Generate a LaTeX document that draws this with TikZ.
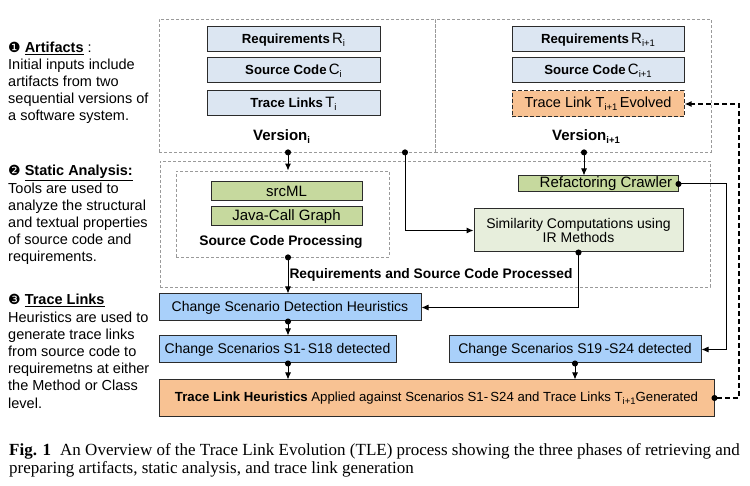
\documentclass[tikz,border=0pt]{standalone}
\usepackage{fontspec}
\setmainfont{Liberation Sans}
\newfontfamily\capfont{Liberation Serif}
\newfontfamily\symfont{DejaVu Sans}
\usetikzlibrary{arrows.meta}

\definecolor{verfill}{HTML}{DCE6F2}
\definecolor{bluefill}{HTML}{A9D0FA}
\definecolor{orfill}{HTML}{F8C293}
\definecolor{grfill}{HTML}{C6D99E}
\definecolor{simfill}{HTML}{E7EEDC}
\definecolor{edgecol}{HTML}{2B2B2B}
\definecolor{dashgray}{HTML}{9A9A9A}

\newcommand\fs[1]{\fontsize{#1}{#1}\selectfont}
\newcommand\sbx[1]{\raisebox{-3pt}{\fontsize{9.5}{9.5}\selectfont #1}}
\newcommand\bul[1]{{\symfont\fontsize{14}{14}\selectfont #1}}

\begin{document}
\begin{tikzpicture}[x=1pt,y=-1pt,
  box/.style={draw=edgecol, line width=1pt, inner sep=0pt},
  vbox/.style={box, fill=verfill, minimum height=25pt, font=\fs{13.2}\bfseries},
  bluebox/.style={box, fill=bluefill, minimum height=27pt, font=\fs{14}},
  greenbox/.style={box, fill=grfill, font=\fs{15}},
  container/.style={draw=dashgray, dash pattern=on 3pt off 2pt, line width=0.8pt, inner sep=0pt},
  conn/.style={line width=1pt, {Circle[length=6pt]}-{Latex[length=7pt,width=6pt]}, shorten <=-3pt},
  feedback/.style={line width=1.3pt, dash pattern=on 5pt off 3pt, {Circle[length=6pt]}-{Latex[length=7pt,width=6pt]}, shorten <=-3pt},
  lefttext/.style={inner sep=0pt, align=left, font=\fontsize{14.5}{17.2}\selectfont},
  bigbold/.style={inner sep=0pt, font=\fs{15}\bfseries},
  midbold/.style={inner sep=0pt, font=\fs{13.8}\bfseries}]

\useasboundingbox (0,0) rectangle (750,486);

% containers
\node[container, minimum width=276pt, minimum height=133pt] (v1) at (297,85.5) {};
\node[container, minimum width=276pt, minimum height=133pt] (v2) at (573,85.5) {};
\node[container, minimum width=550pt, minimum height=126pt] (sa) at (435,224) {};
\node[container, minimum width=213pt, minimum height=86pt] (scp) at (282.5,214) {};

% version i
\node[vbox, minimum width=173pt] (r1) at (293.5,39.5) {Requirements\,{\mdseries\fs{15}R}\sbx{\mdseries i}};
\node[vbox, minimum width=173pt] (c1) at (293.5,70.5) {Source Code\,{\mdseries\fs{15}C}\sbx{\mdseries i}};
\node[vbox, minimum width=173pt] (t1) at (293.5,103.5) {Trace Links\,{\mdseries\fs{15}T}\sbx{\mdseries i}};
\node[bigbold, anchor=base west] (ver1) at (253,141) {Version\sbx{i}};

% version i+1
\node[vbox, minimum width=172pt] (r2) at (598,39.5) {Requirements\,{\mdseries\fs{15}R}\sbx{\mdseries i+1}};
\node[vbox, minimum width=172pt] (c2) at (598,70.5) {Source Code\,{\mdseries\fs{15}C}\sbx{\mdseries i+1}};
\node[box, fill=orfill, dash pattern=on 4pt off 2pt, minimum width=172pt, minimum height=26pt, font=\fs{14.5}] (tle) at (598,104) {Trace Link T\sbx{i+1}\,Evolved};
\node[bigbold, anchor=base west] (ver2) at (552,141) {Version\sbx{i+1}};

% static analysis
\node[greenbox, minimum width=151pt, minimum height=19pt] (src) at (286.5,191.5) {srcML};
\node[greenbox, minimum width=151pt, minimum height=19pt] (jcg) at (286.5,216.5) {Java-Call Graph};
\node[midbold] (scplab) at (281,242) {Source Code Processing};
\node[greenbox, minimum width=160pt, minimum height=16pt] (rc) at (598,184) {\hspace*{16pt}Refactoring Crawler};
\node[box, fill=simfill, minimum width=209pt, minimum height=43pt, align=center, font=\fontsize{14}{14}\selectfont] (sim) at (578.5,230.5) {Similarity Computations using\\IR Methods};
\node[midbold] (rsp) at (431,275) {Requirements and Source Code Processed};

% trace links
\node[bluebox, minimum width=262pt] (cdh) at (290,307.5) {Change Scenario Detection Heuristics};
\node[bluebox, minimum width=237pt] (s1) at (277.5,349.5) {Change Scenarios S1-\,S18 detected};
\node[bluebox, minimum width=252pt] (s19) at (575,349.5) {Change Scenarios S19\,-S24 detected};
\node[box, fill=orfill, minimum width=555pt, minimum height=36pt, font=\fs{13.2}] (tlh) at (436.5,398) {\textbf{Trace Link Heuristics} Applied against Scenarios S1-\,S24 and Trace Links T\sbx{i+1}Generated};

% helper x positions
\coordinate (sp) at (288,0);
\coordinate (xb) at (405,0);
\coordinate (xc) at (584,0);
\coordinate (rx) at (726,0);
\coordinate (fx) at (739,0);

% connectors
\draw[conn] (v1.south -| sp) -- (scp.north -| sp);
\draw[conn] (v1.south -| xb) |- (sim.west);
\draw[conn] (v2.south -| xc) -- (rc.north -| xc);
\draw[conn] (rc.east) -- (rc.east -| rx) |- (s19.east);
\draw[conn] (sim.south) |- (cdh.east);
\draw[conn] (scp.south -| sp) -- (cdh.north -| sp);
\draw[conn] (cdh.south -| sp) -- (s1.north -| sp);
\draw[conn] (s1.south -| sp) -- (tlh.north -| sp);
\draw[conn] (s19.south) -- (s19.south |- tlh.north);
\draw[feedback] (tlh.east) -- (tlh.east -| fx) |- (tle.east);

% left column (anchored at the baseline of the last line)
\node[lefttext, anchor=base west] (ta) at (8,121) {\bul{❶} \underline{\textbf{Artifacts}} :\\Initial inputs include\\artifacts from two\\sequential versions of\\a software system.};
\node[lefttext, anchor=base west] (tb) at (8,262) {\bul{❷} \underline{\textbf{Static Analysis:}}\\Tools are used to\\analyze the structural\\and textual properties\\of source code and\\requirements.};
\node[lefttext, anchor=base west] (tc) at (8,408) {\bul{❸} \underline{\textbf{Trace Links}}\\Heuristics are used to\\generate trace links\\from source code to\\requiremetns at either\\the Method or Class\\level.};

% caption
\node[inner sep=0pt, anchor=west, font=\capfont\fontsize{17}{18}\selectfont] (cap) at (9,461) {\begin{tabular}{@{}l@{}}\textbf{Fig. 1}\hspace{9pt}An Overview of the Trace Link Evolution (TLE) process showing the three phases of retrieving and\\preparing artifacts, static analysis, and trace link generation\end{tabular}};
\end{tikzpicture}
\end{document}
